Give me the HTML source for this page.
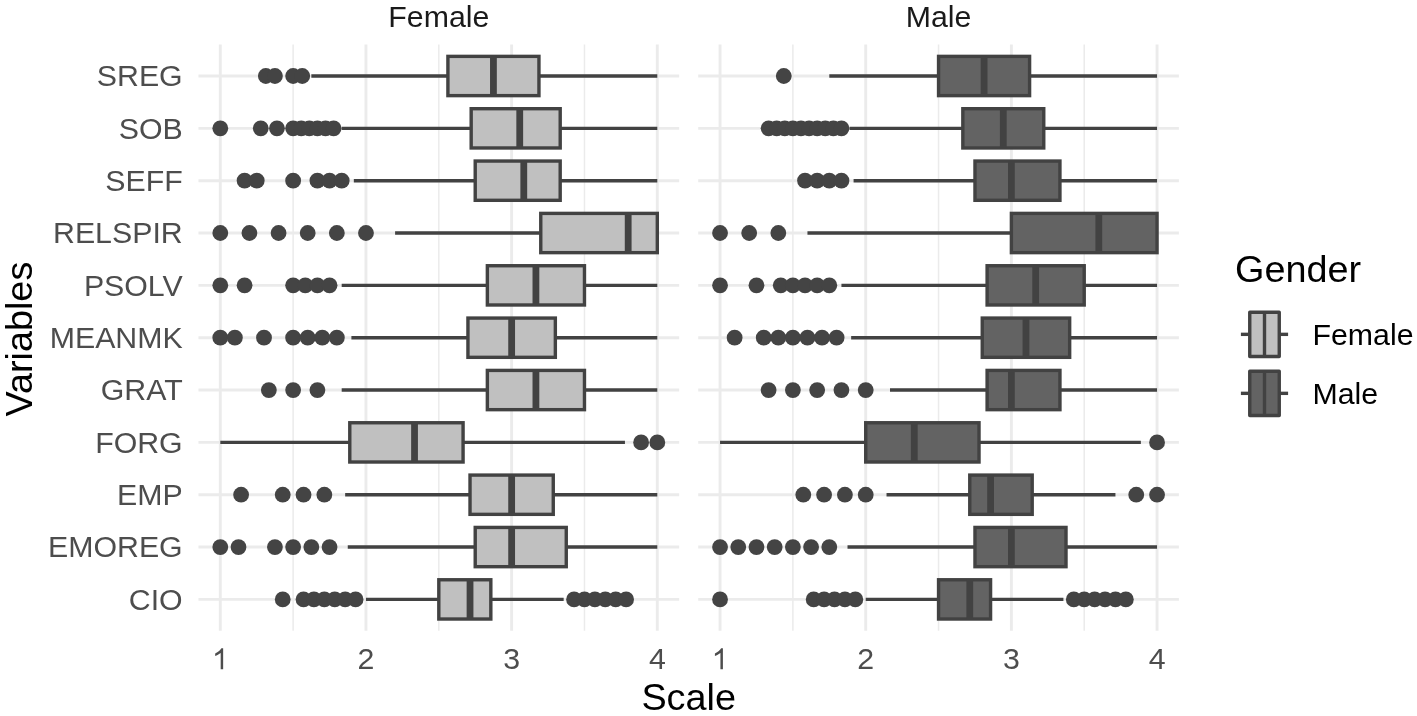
<!DOCTYPE html><html><head><meta charset="utf-8"><title>Boxplot</title><style>html,body{margin:0;padding:0;background:#fff;width:1417px;height:716px;overflow:hidden;}svg{display:block;font-family:"Liberation Sans",sans-serif;will-change:transform;}</style></head><body><svg width="1417" height="716" viewBox="0 0 1417 716"><rect width="100%" height="100%" fill="#fff"/><g><line x1="293.13" y1="44.6" x2="293.13" y2="630.8" stroke="#ebebeb" stroke-width="1.5"/><line x1="438.81" y1="44.6" x2="438.81" y2="630.8" stroke="#ebebeb" stroke-width="1.5"/><line x1="584.47" y1="44.6" x2="584.47" y2="630.8" stroke="#ebebeb" stroke-width="1.5"/><line x1="220.3" y1="44.6" x2="220.3" y2="630.8" stroke="#ebebeb" stroke-width="2.9"/><line x1="365.97" y1="44.6" x2="365.97" y2="630.8" stroke="#ebebeb" stroke-width="2.9"/><line x1="511.64" y1="44.6" x2="511.64" y2="630.8" stroke="#ebebeb" stroke-width="2.9"/><line x1="657.31" y1="44.6" x2="657.31" y2="630.8" stroke="#ebebeb" stroke-width="2.9"/><line x1="198.45" y1="76" x2="679.15" y2="76" stroke="#ebebeb" stroke-width="2.9"/><line x1="198.45" y1="128.34" x2="679.15" y2="128.34" stroke="#ebebeb" stroke-width="2.9"/><line x1="198.45" y1="180.68" x2="679.15" y2="180.68" stroke="#ebebeb" stroke-width="2.9"/><line x1="198.45" y1="233.02" x2="679.15" y2="233.02" stroke="#ebebeb" stroke-width="2.9"/><line x1="198.45" y1="285.36" x2="679.15" y2="285.36" stroke="#ebebeb" stroke-width="2.9"/><line x1="198.45" y1="337.7" x2="679.15" y2="337.7" stroke="#ebebeb" stroke-width="2.9"/><line x1="198.45" y1="390.04" x2="679.15" y2="390.04" stroke="#ebebeb" stroke-width="2.9"/><line x1="198.45" y1="442.38" x2="679.15" y2="442.38" stroke="#ebebeb" stroke-width="2.9"/><line x1="198.45" y1="494.72" x2="679.15" y2="494.72" stroke="#ebebeb" stroke-width="2.9"/><line x1="198.45" y1="547.06" x2="679.15" y2="547.06" stroke="#ebebeb" stroke-width="2.9"/><line x1="198.45" y1="599.4" x2="679.15" y2="599.4" stroke="#ebebeb" stroke-width="2.9"/><line x1="792.88" y1="44.6" x2="792.88" y2="630.8" stroke="#ebebeb" stroke-width="1.5"/><line x1="938.55" y1="44.6" x2="938.55" y2="630.8" stroke="#ebebeb" stroke-width="1.5"/><line x1="1084.22" y1="44.6" x2="1084.22" y2="630.8" stroke="#ebebeb" stroke-width="1.5"/><line x1="720.05" y1="44.6" x2="720.05" y2="630.8" stroke="#ebebeb" stroke-width="2.9"/><line x1="865.72" y1="44.6" x2="865.72" y2="630.8" stroke="#ebebeb" stroke-width="2.9"/><line x1="1011.39" y1="44.6" x2="1011.39" y2="630.8" stroke="#ebebeb" stroke-width="2.9"/><line x1="1157.06" y1="44.6" x2="1157.06" y2="630.8" stroke="#ebebeb" stroke-width="2.9"/><line x1="698.2" y1="76" x2="1178.9" y2="76" stroke="#ebebeb" stroke-width="2.9"/><line x1="698.2" y1="128.34" x2="1178.9" y2="128.34" stroke="#ebebeb" stroke-width="2.9"/><line x1="698.2" y1="180.68" x2="1178.9" y2="180.68" stroke="#ebebeb" stroke-width="2.9"/><line x1="698.2" y1="233.02" x2="1178.9" y2="233.02" stroke="#ebebeb" stroke-width="2.9"/><line x1="698.2" y1="285.36" x2="1178.9" y2="285.36" stroke="#ebebeb" stroke-width="2.9"/><line x1="698.2" y1="337.7" x2="1178.9" y2="337.7" stroke="#ebebeb" stroke-width="2.9"/><line x1="698.2" y1="390.04" x2="1178.9" y2="390.04" stroke="#ebebeb" stroke-width="2.9"/><line x1="698.2" y1="442.38" x2="1178.9" y2="442.38" stroke="#ebebeb" stroke-width="2.9"/><line x1="698.2" y1="494.72" x2="1178.9" y2="494.72" stroke="#ebebeb" stroke-width="2.9"/><line x1="698.2" y1="547.06" x2="1178.9" y2="547.06" stroke="#ebebeb" stroke-width="2.9"/><line x1="698.2" y1="599.4" x2="1178.9" y2="599.4" stroke="#ebebeb" stroke-width="2.9"/></g><g stroke="#424242" stroke-width="3.4" stroke-linejoin="miter"><line x1="311.34" y1="76" x2="447.91" y2="76"/><line x1="538.95" y1="76" x2="657.31" y2="76"/><rect x="447.91" y="56.37" width="91.04" height="39.26" fill="#c0c0c0"/><line x1="493.43" y1="56.37" x2="493.43" y2="95.63" stroke-width="6.8"/><circle cx="265.82" cy="76" r="7.9" fill="#444444" stroke="none"/><circle cx="274.93" cy="76" r="7.9" fill="#444444" stroke="none"/><circle cx="293.13" cy="76" r="7.9" fill="#444444" stroke="none"/><circle cx="302.24" cy="76" r="7.9" fill="#444444" stroke="none"/><line x1="829.3" y1="76" x2="938.55" y2="76"/><line x1="1029.6" y1="76" x2="1157.06" y2="76"/><rect x="938.55" y="56.37" width="91.04" height="39.26" fill="#636363"/><line x1="984.08" y1="56.37" x2="984.08" y2="95.63" stroke-width="6.8"/><circle cx="783.78" cy="76" r="7.9" fill="#444444" stroke="none"/><line x1="341.69" y1="128.34" x2="471.18" y2="128.34"/><line x1="560.2" y1="128.34" x2="657.31" y2="128.34"/><rect x="471.18" y="108.71" width="89.02" height="39.26" fill="#c0c0c0"/><line x1="519.73" y1="108.71" x2="519.73" y2="147.97" stroke-width="6.8"/><circle cx="220.3" cy="128.34" r="7.9" fill="#444444" stroke="none"/><circle cx="260.76" cy="128.34" r="7.9" fill="#444444" stroke="none"/><circle cx="276.95" cy="128.34" r="7.9" fill="#444444" stroke="none"/><circle cx="293.13" cy="128.34" r="7.9" fill="#444444" stroke="none"/><circle cx="301.23" cy="128.34" r="7.9" fill="#444444" stroke="none"/><circle cx="309.32" cy="128.34" r="7.9" fill="#444444" stroke="none"/><circle cx="317.41" cy="128.34" r="7.9" fill="#444444" stroke="none"/><circle cx="325.51" cy="128.34" r="7.9" fill="#444444" stroke="none"/><circle cx="333.6" cy="128.34" r="7.9" fill="#444444" stroke="none"/><line x1="849.53" y1="128.34" x2="962.83" y2="128.34"/><line x1="1043.76" y1="128.34" x2="1157.06" y2="128.34"/><rect x="962.83" y="108.71" width="80.93" height="39.26" fill="#636363"/><line x1="1003.3" y1="108.71" x2="1003.3" y2="147.97" stroke-width="6.8"/><circle cx="768.61" cy="128.34" r="7.9" fill="#444444" stroke="none"/><circle cx="776.7" cy="128.34" r="7.9" fill="#444444" stroke="none"/><circle cx="784.79" cy="128.34" r="7.9" fill="#444444" stroke="none"/><circle cx="792.88" cy="128.34" r="7.9" fill="#444444" stroke="none"/><circle cx="800.98" cy="128.34" r="7.9" fill="#444444" stroke="none"/><circle cx="809.07" cy="128.34" r="7.9" fill="#444444" stroke="none"/><circle cx="817.16" cy="128.34" r="7.9" fill="#444444" stroke="none"/><circle cx="825.26" cy="128.34" r="7.9" fill="#444444" stroke="none"/><circle cx="833.35" cy="128.34" r="7.9" fill="#444444" stroke="none"/><circle cx="841.44" cy="128.34" r="7.9" fill="#444444" stroke="none"/><line x1="353.83" y1="180.68" x2="475.22" y2="180.68"/><line x1="560.2" y1="180.68" x2="657.31" y2="180.68"/><rect x="475.22" y="161.05" width="84.97" height="39.26" fill="#c0c0c0"/><line x1="523.78" y1="161.05" x2="523.78" y2="200.31" stroke-width="6.8"/><circle cx="244.58" cy="180.68" r="7.9" fill="#444444" stroke="none"/><circle cx="256.72" cy="180.68" r="7.9" fill="#444444" stroke="none"/><circle cx="293.13" cy="180.68" r="7.9" fill="#444444" stroke="none"/><circle cx="317.41" cy="180.68" r="7.9" fill="#444444" stroke="none"/><circle cx="329.55" cy="180.68" r="7.9" fill="#444444" stroke="none"/><circle cx="341.69" cy="180.68" r="7.9" fill="#444444" stroke="none"/><line x1="853.58" y1="180.68" x2="974.97" y2="180.68"/><line x1="1059.95" y1="180.68" x2="1157.06" y2="180.68"/><rect x="974.97" y="161.05" width="84.97" height="39.26" fill="#636363"/><line x1="1011.39" y1="161.05" x2="1011.39" y2="200.31" stroke-width="6.8"/><circle cx="805.02" cy="180.68" r="7.9" fill="#444444" stroke="none"/><circle cx="817.16" cy="180.68" r="7.9" fill="#444444" stroke="none"/><circle cx="829.3" cy="180.68" r="7.9" fill="#444444" stroke="none"/><circle cx="841.44" cy="180.68" r="7.9" fill="#444444" stroke="none"/><line x1="395.1" y1="233.02" x2="540.77" y2="233.02"/><rect x="540.77" y="213.39" width="116.54" height="39.26" fill="#c0c0c0"/><line x1="628.18" y1="213.39" x2="628.18" y2="252.65" stroke-width="6.8"/><circle cx="220.3" cy="233.02" r="7.9" fill="#444444" stroke="none"/><circle cx="249.43" cy="233.02" r="7.9" fill="#444444" stroke="none"/><circle cx="278.57" cy="233.02" r="7.9" fill="#444444" stroke="none"/><circle cx="307.7" cy="233.02" r="7.9" fill="#444444" stroke="none"/><circle cx="336.84" cy="233.02" r="7.9" fill="#444444" stroke="none"/><circle cx="365.97" cy="233.02" r="7.9" fill="#444444" stroke="none"/><line x1="807.45" y1="233.02" x2="1011.39" y2="233.02"/><rect x="1011.39" y="213.39" width="145.67" height="39.26" fill="#636363"/><line x1="1098.79" y1="213.39" x2="1098.79" y2="252.65" stroke-width="6.8"/><circle cx="720.05" cy="233.02" r="7.9" fill="#444444" stroke="none"/><circle cx="749.18" cy="233.02" r="7.9" fill="#444444" stroke="none"/><circle cx="778.32" cy="233.02" r="7.9" fill="#444444" stroke="none"/><line x1="341.69" y1="285.36" x2="487.36" y2="285.36"/><line x1="584.47" y1="285.36" x2="657.31" y2="285.36"/><rect x="487.36" y="265.73" width="97.11" height="39.26" fill="#c0c0c0"/><line x1="535.92" y1="265.73" x2="535.92" y2="304.99" stroke-width="6.8"/><circle cx="220.3" cy="285.36" r="7.9" fill="#444444" stroke="none"/><circle cx="244.58" cy="285.36" r="7.9" fill="#444444" stroke="none"/><circle cx="293.13" cy="285.36" r="7.9" fill="#444444" stroke="none"/><circle cx="305.27" cy="285.36" r="7.9" fill="#444444" stroke="none"/><circle cx="317.41" cy="285.36" r="7.9" fill="#444444" stroke="none"/><circle cx="329.55" cy="285.36" r="7.9" fill="#444444" stroke="none"/><line x1="841.44" y1="285.36" x2="987.11" y2="285.36"/><line x1="1084.22" y1="285.36" x2="1157.06" y2="285.36"/><rect x="987.11" y="265.73" width="97.11" height="39.26" fill="#636363"/><line x1="1035.67" y1="265.73" x2="1035.67" y2="304.99" stroke-width="6.8"/><circle cx="720.05" cy="285.36" r="7.9" fill="#444444" stroke="none"/><circle cx="756.47" cy="285.36" r="7.9" fill="#444444" stroke="none"/><circle cx="780.75" cy="285.36" r="7.9" fill="#444444" stroke="none"/><circle cx="792.88" cy="285.36" r="7.9" fill="#444444" stroke="none"/><circle cx="805.02" cy="285.36" r="7.9" fill="#444444" stroke="none"/><circle cx="817.16" cy="285.36" r="7.9" fill="#444444" stroke="none"/><circle cx="829.3" cy="285.36" r="7.9" fill="#444444" stroke="none"/><line x1="351.4" y1="337.7" x2="467.94" y2="337.7"/><line x1="555.34" y1="337.7" x2="657.31" y2="337.7"/><rect x="467.94" y="318.07" width="87.4" height="39.26" fill="#c0c0c0"/><line x1="511.64" y1="318.07" x2="511.64" y2="357.33" stroke-width="6.8"/><circle cx="220.3" cy="337.7" r="7.9" fill="#444444" stroke="none"/><circle cx="234.87" cy="337.7" r="7.9" fill="#444444" stroke="none"/><circle cx="264" cy="337.7" r="7.9" fill="#444444" stroke="none"/><circle cx="293.13" cy="337.7" r="7.9" fill="#444444" stroke="none"/><circle cx="307.7" cy="337.7" r="7.9" fill="#444444" stroke="none"/><circle cx="322.27" cy="337.7" r="7.9" fill="#444444" stroke="none"/><circle cx="336.84" cy="337.7" r="7.9" fill="#444444" stroke="none"/><line x1="851.15" y1="337.7" x2="982.26" y2="337.7"/><line x1="1069.66" y1="337.7" x2="1157.06" y2="337.7"/><rect x="982.26" y="318.07" width="87.4" height="39.26" fill="#636363"/><line x1="1025.96" y1="318.07" x2="1025.96" y2="357.33" stroke-width="6.8"/><circle cx="734.62" cy="337.7" r="7.9" fill="#444444" stroke="none"/><circle cx="763.75" cy="337.7" r="7.9" fill="#444444" stroke="none"/><circle cx="778.32" cy="337.7" r="7.9" fill="#444444" stroke="none"/><circle cx="792.88" cy="337.7" r="7.9" fill="#444444" stroke="none"/><circle cx="807.45" cy="337.7" r="7.9" fill="#444444" stroke="none"/><circle cx="822.02" cy="337.7" r="7.9" fill="#444444" stroke="none"/><circle cx="836.59" cy="337.7" r="7.9" fill="#444444" stroke="none"/><line x1="341.69" y1="390.04" x2="487.36" y2="390.04"/><line x1="584.47" y1="390.04" x2="657.31" y2="390.04"/><rect x="487.36" y="370.41" width="97.11" height="39.26" fill="#c0c0c0"/><line x1="535.92" y1="370.41" x2="535.92" y2="409.67" stroke-width="6.8"/><circle cx="268.86" cy="390.04" r="7.9" fill="#444444" stroke="none"/><circle cx="293.13" cy="390.04" r="7.9" fill="#444444" stroke="none"/><circle cx="317.41" cy="390.04" r="7.9" fill="#444444" stroke="none"/><line x1="890" y1="390.04" x2="987.11" y2="390.04"/><line x1="1059.95" y1="390.04" x2="1157.06" y2="390.04"/><rect x="987.11" y="370.41" width="72.84" height="39.26" fill="#636363"/><line x1="1011.39" y1="370.41" x2="1011.39" y2="409.67" stroke-width="6.8"/><circle cx="768.61" cy="390.04" r="7.9" fill="#444444" stroke="none"/><circle cx="792.88" cy="390.04" r="7.9" fill="#444444" stroke="none"/><circle cx="817.16" cy="390.04" r="7.9" fill="#444444" stroke="none"/><circle cx="841.44" cy="390.04" r="7.9" fill="#444444" stroke="none"/><circle cx="865.72" cy="390.04" r="7.9" fill="#444444" stroke="none"/><line x1="220.3" y1="442.38" x2="349.78" y2="442.38"/><line x1="463.08" y1="442.38" x2="624.94" y2="442.38"/><rect x="349.78" y="422.75" width="113.3" height="39.26" fill="#c0c0c0"/><line x1="414.53" y1="422.75" x2="414.53" y2="462.01" stroke-width="6.8"/><circle cx="641.12" cy="442.38" r="7.9" fill="#444444" stroke="none"/><circle cx="657.31" cy="442.38" r="7.9" fill="#444444" stroke="none"/><line x1="720.05" y1="442.38" x2="865.72" y2="442.38"/><line x1="979.02" y1="442.38" x2="1140.87" y2="442.38"/><rect x="865.72" y="422.75" width="113.3" height="39.26" fill="#636363"/><line x1="914.28" y1="422.75" x2="914.28" y2="462.01" stroke-width="6.8"/><circle cx="1157.06" cy="442.38" r="7.9" fill="#444444" stroke="none"/><line x1="345.16" y1="494.72" x2="470.02" y2="494.72"/><line x1="553.26" y1="494.72" x2="657.31" y2="494.72"/><rect x="470.02" y="475.09" width="83.24" height="39.26" fill="#c0c0c0"/><line x1="511.64" y1="475.09" x2="511.64" y2="514.35" stroke-width="6.8"/><circle cx="241.11" cy="494.72" r="7.9" fill="#444444" stroke="none"/><circle cx="282.73" cy="494.72" r="7.9" fill="#444444" stroke="none"/><circle cx="303.54" cy="494.72" r="7.9" fill="#444444" stroke="none"/><circle cx="324.35" cy="494.72" r="7.9" fill="#444444" stroke="none"/><line x1="886.53" y1="494.72" x2="969.77" y2="494.72"/><line x1="1032.2" y1="494.72" x2="1115.44" y2="494.72"/><rect x="969.77" y="475.09" width="62.43" height="39.26" fill="#636363"/><line x1="990.58" y1="475.09" x2="990.58" y2="514.35" stroke-width="6.8"/><circle cx="803.29" cy="494.72" r="7.9" fill="#444444" stroke="none"/><circle cx="824.1" cy="494.72" r="7.9" fill="#444444" stroke="none"/><circle cx="844.91" cy="494.72" r="7.9" fill="#444444" stroke="none"/><circle cx="865.72" cy="494.72" r="7.9" fill="#444444" stroke="none"/><circle cx="1136.25" cy="494.72" r="7.9" fill="#444444" stroke="none"/><circle cx="1157.06" cy="494.72" r="7.9" fill="#444444" stroke="none"/><line x1="347.76" y1="547.06" x2="475.22" y2="547.06"/><line x1="566.27" y1="547.06" x2="657.31" y2="547.06"/><rect x="475.22" y="527.43" width="91.04" height="39.26" fill="#c0c0c0"/><line x1="511.64" y1="527.43" x2="511.64" y2="566.69" stroke-width="6.8"/><circle cx="220.3" cy="547.06" r="7.9" fill="#444444" stroke="none"/><circle cx="238.51" cy="547.06" r="7.9" fill="#444444" stroke="none"/><circle cx="274.93" cy="547.06" r="7.9" fill="#444444" stroke="none"/><circle cx="293.13" cy="547.06" r="7.9" fill="#444444" stroke="none"/><circle cx="311.34" cy="547.06" r="7.9" fill="#444444" stroke="none"/><circle cx="329.55" cy="547.06" r="7.9" fill="#444444" stroke="none"/><line x1="847.51" y1="547.06" x2="974.97" y2="547.06"/><line x1="1066.02" y1="547.06" x2="1157.06" y2="547.06"/><rect x="974.97" y="527.43" width="91.04" height="39.26" fill="#636363"/><line x1="1011.39" y1="527.43" x2="1011.39" y2="566.69" stroke-width="6.8"/><circle cx="720.05" cy="547.06" r="7.9" fill="#444444" stroke="none"/><circle cx="738.26" cy="547.06" r="7.9" fill="#444444" stroke="none"/><circle cx="756.47" cy="547.06" r="7.9" fill="#444444" stroke="none"/><circle cx="774.68" cy="547.06" r="7.9" fill="#444444" stroke="none"/><circle cx="792.88" cy="547.06" r="7.9" fill="#444444" stroke="none"/><circle cx="811.09" cy="547.06" r="7.9" fill="#444444" stroke="none"/><circle cx="829.3" cy="547.06" r="7.9" fill="#444444" stroke="none"/><line x1="365.97" y1="599.4" x2="438.81" y2="599.4"/><line x1="490.83" y1="599.4" x2="563.66" y2="599.4"/><rect x="438.81" y="579.77" width="52.02" height="39.26" fill="#c0c0c0"/><line x1="470.02" y1="579.77" x2="470.02" y2="619.03" stroke-width="6.8"/><circle cx="282.73" cy="599.4" r="7.9" fill="#444444" stroke="none"/><circle cx="303.54" cy="599.4" r="7.9" fill="#444444" stroke="none"/><circle cx="313.94" cy="599.4" r="7.9" fill="#444444" stroke="none"/><circle cx="324.35" cy="599.4" r="7.9" fill="#444444" stroke="none"/><circle cx="334.75" cy="599.4" r="7.9" fill="#444444" stroke="none"/><circle cx="345.16" cy="599.4" r="7.9" fill="#444444" stroke="none"/><circle cx="355.56" cy="599.4" r="7.9" fill="#444444" stroke="none"/><circle cx="574.07" cy="599.4" r="7.9" fill="#444444" stroke="none"/><circle cx="584.47" cy="599.4" r="7.9" fill="#444444" stroke="none"/><circle cx="594.88" cy="599.4" r="7.9" fill="#444444" stroke="none"/><circle cx="605.28" cy="599.4" r="7.9" fill="#444444" stroke="none"/><circle cx="615.69" cy="599.4" r="7.9" fill="#444444" stroke="none"/><circle cx="626.1" cy="599.4" r="7.9" fill="#444444" stroke="none"/><line x1="865.72" y1="599.4" x2="938.55" y2="599.4"/><line x1="990.58" y1="599.4" x2="1063.41" y2="599.4"/><rect x="938.55" y="579.77" width="52.02" height="39.26" fill="#636363"/><line x1="969.77" y1="579.77" x2="969.77" y2="619.03" stroke-width="6.8"/><circle cx="720.05" cy="599.4" r="7.9" fill="#444444" stroke="none"/><circle cx="813.69" cy="599.4" r="7.9" fill="#444444" stroke="none"/><circle cx="824.1" cy="599.4" r="7.9" fill="#444444" stroke="none"/><circle cx="834.5" cy="599.4" r="7.9" fill="#444444" stroke="none"/><circle cx="844.91" cy="599.4" r="7.9" fill="#444444" stroke="none"/><circle cx="855.31" cy="599.4" r="7.9" fill="#444444" stroke="none"/><circle cx="1073.82" cy="599.4" r="7.9" fill="#444444" stroke="none"/><circle cx="1084.22" cy="599.4" r="7.9" fill="#444444" stroke="none"/><circle cx="1094.63" cy="599.4" r="7.9" fill="#444444" stroke="none"/><circle cx="1105.03" cy="599.4" r="7.9" fill="#444444" stroke="none"/><circle cx="1115.44" cy="599.4" r="7.9" fill="#444444" stroke="none"/><circle cx="1125.84" cy="599.4" r="7.9" fill="#444444" stroke="none"/></g><g font-family="Liberation Sans, sans-serif" font-size="30.3" fill="#4d4d4d"><text x="182.7" y="86.4" text-anchor="end">SREG</text><text x="182.7" y="138.74" text-anchor="end">SOB</text><text x="182.7" y="191.08" text-anchor="end">SEFF</text><text x="182.7" y="243.42" text-anchor="end">RELSPIR</text><text x="182.7" y="295.76" text-anchor="end">PSOLV</text><text x="182.7" y="348.1" text-anchor="end">MEANMK</text><text x="182.7" y="400.44" text-anchor="end">GRAT</text><text x="182.7" y="452.78" text-anchor="end">FORG</text><text x="182.7" y="505.12" text-anchor="end">EMP</text><text x="182.7" y="557.46" text-anchor="end">EMOREG</text><text x="182.7" y="609.8" text-anchor="end">CIO</text></g><g font-family="Liberation Sans, sans-serif" font-size="30.3" fill="#4d4d4d"><text x="365.97" y="669.2" text-anchor="middle">2</text><text x="511.64" y="669.2" text-anchor="middle">3</text><text x="657.31" y="669.2" text-anchor="middle">4</text><text x="865.72" y="669.2" text-anchor="middle">2</text><text x="1011.39" y="669.2" text-anchor="middle">3</text><text x="1157.06" y="669.2" text-anchor="middle">4</text><path transform="translate(211.87,669.2) scale(0.01479,-0.01416)" d="M763 0L596 0L596 1147C550 1106 483 1065 413 1024C342 983 279 952 223 931L223 1105C324 1152 412 1210 487 1277C562 1344 615 1409 646 1472L763 1472Z"/><path transform="translate(711.62,669.2) scale(0.01479,-0.01416)" d="M763 0L596 0L596 1147C550 1106 483 1065 413 1024C342 983 279 952 223 931L223 1105C324 1152 412 1210 487 1277C562 1344 615 1409 646 1472L763 1472Z"/></g><g font-family="Liberation Sans, sans-serif" font-size="30.3" fill="#1a1a1a" text-anchor="middle"><text x="438.8" y="26.9">Female</text><text x="938.55" y="26.9">Male</text></g><g font-family="Liberation Sans, sans-serif" font-size="37.8" fill="#000"><text x="688.68" y="709.8" text-anchor="middle">Scale</text><text transform="translate(32,339.1) rotate(-90)" text-anchor="middle">Variables</text><text x="1235.0" y="281.8">Gender</text></g><g stroke="#424242" stroke-width="3.4" stroke-linejoin="round"><line x1="1240.9" y1="334.35" x2="1249.75" y2="334.35"/><line x1="1279.25" y1="334.35" x2="1288.1" y2="334.35"/><rect x="1249.75" y="312.23" width="29.5" height="44.25" fill="#c0c0c0"/><line x1="1264.5" y1="312.23" x2="1264.5" y2="356.48"/><line x1="1240.9" y1="393.35" x2="1249.75" y2="393.35"/><line x1="1279.25" y1="393.35" x2="1288.1" y2="393.35"/><rect x="1249.75" y="371.23" width="29.5" height="44.25" fill="#636363"/><line x1="1264.5" y1="371.23" x2="1264.5" y2="415.48"/></g><g font-family="Liberation Sans, sans-serif" font-size="30.3" fill="#000"><text x="1312.5" y="344.75">Female</text><text x="1312.5" y="403.75">Male</text></g></svg></body></html>
